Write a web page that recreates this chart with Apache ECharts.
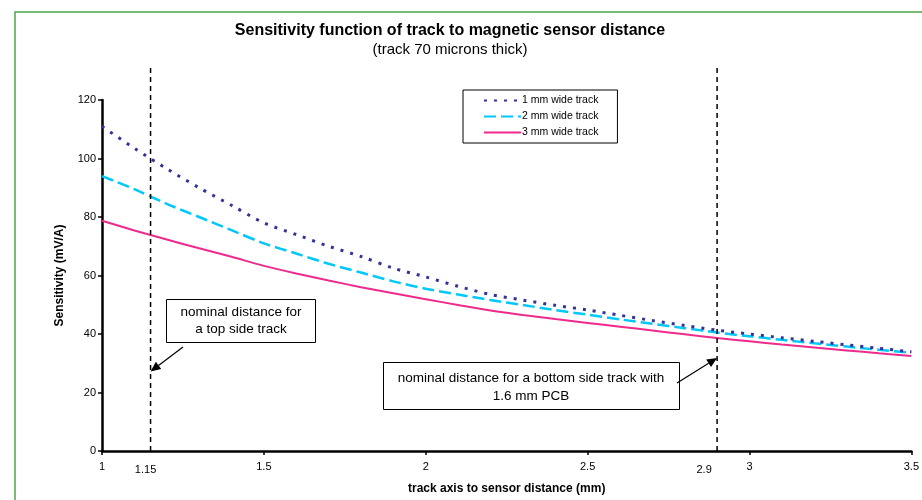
<!DOCTYPE html>
<html>
<head>
<meta charset="utf-8">
<script src="https://cdn.jsdelivr.net/npm/echarts@6/dist/echarts.min.js"></script>
<style>
  html, body { margin: 0; padding: 0; background: #fff; }
  #chart { width: 922px; height: 500px; }
</style>
</head>
<body>
<div id="chart"></div>
<script>
// Track-to-sensor distance (mm)
const distances = [1.0, 1.1, 1.2, 1.3, 1.4, 1.5, 1.6, 1.7, 1.8, 1.9, 2.0, 2.1, 2.2,
                   2.3, 2.4, 2.5, 2.6, 2.7, 2.8, 2.9, 3.0, 3.1, 3.2, 3.3, 3.4, 3.5];
// Sensitivity (mV/A) per track width
const track1mm = [111, 103.5, 96.5, 90, 84, 78, 74, 70, 66.5, 62.5, 59.5, 56.3, 53.5,
                  51.6, 49.8, 48.2, 46.4, 44.6, 42.9, 41.3, 40.0, 38.7, 37.5, 36.3, 35.1, 33.9];
const track2mm = [94, 89.5, 84.5, 80, 75.5, 71, 67.5, 64, 61, 58, 55.5, 53.5, 51.6,
                  49.9, 48.2, 46.6, 45.0, 43.5, 42.0, 40.5, 39.2, 38.0, 36.8, 35.7, 34.6, 33.6];
const track3mm = [78.7, 75.4, 72.3, 69.3, 66.4, 63.3, 60.7, 58.3, 56.0, 53.9, 51.9, 49.9, 48.0,
                  46.5, 45.1, 43.8, 42.5, 41.2, 39.9, 38.6, 37.5, 36.4, 35.4, 34.4, 33.4, 32.5];
const seriesNames = ['1 mm wide track', '2 mm wide track', '3 mm wide track'];
// Nominal distances marked on the chart
const nominalTop = 1.15;
const nominalBottom = 2.9;
const yTicks = [0, 20, 40, 60, 80, 100, 120];

const FONT = '"Liberation Sans", Arial, sans-serif';
const chart = echarts.init(document.getElementById('chart'));

function pairs(ys) { return distances.map((x, i) => [x, ys[i]]); }

chart.setOption({
  animation: false,
  backgroundColor: '#fff',
  textStyle: { fontFamily: FONT },
  title: {
    text: 'Sensitivity function of track to magnetic sensor distance',
    subtext: '(track 70 microns thick)',
    left: 445,
    textAlign: 'center',
    top: 18,
    itemGap: 3,
    textStyle: { fontFamily: FONT, fontSize: 16, fontWeight: 'bold', color: '#000' },
    subtextStyle: { fontFamily: FONT, fontSize: 15, color: '#000' }
  },
  legend: {
    orient: 'vertical',
    left: 463,
    top: 90,
    padding: [5, 19, 5, 20],
    itemGap: 5,
    itemWidth: 37,
    itemHeight: 11,
    borderColor: '#000',
    borderWidth: 1,
    itemStyle: { opacity: 0 },
    textStyle: { fontFamily: FONT, fontSize: 10.5, color: '#000', padding: [0, 0, 0, -4] },
    data: seriesNames.map(n => ({ name: n, itemStyle: { opacity: 0 } }))
  },
  grid: { left: 102, right: 10, top: 100, bottom: 49 },
  xAxis: {
    type: 'value',
    min: 1, max: 3.5, interval: 0.5,
    name: 'track axis to sensor distance (mm)',
    nameLocation: 'middle',
    nameGap: 32,
    nameTextStyle: { fontFamily: FONT, fontSize: 12, fontWeight: 'bold', color: '#000' },
    axisLine: { lineStyle: { color: '#000', width: 2.5 } },
    axisTick: { length: 4, lineStyle: { color: '#000', width: 1.5 } },
    axisLabel: { fontFamily: FONT, fontSize: 11, color: '#000', margin: 10 },
    splitLine: { show: false }
  },
  yAxis: {
    type: 'value',
    min: yTicks[0], max: yTicks[yTicks.length - 1], interval: 20,
    name: 'Sensitivity (mV/A)',
    nameLocation: 'middle',
    nameGap: 36,
    nameTextStyle: { fontFamily: FONT, fontSize: 12, fontWeight: 'bold', color: '#000' },
    axisLine: { show: true, lineStyle: { color: '#000', width: 2.5 } },
    axisTick: { show: true, length: 4, lineStyle: { color: '#000', width: 1.5 } },
    axisLabel: { fontFamily: FONT, fontSize: 11, color: '#000', margin: 6 },
    splitLine: { show: false }
  },
  series: [
    {
      name: seriesNames[0], type: 'line', data: pairs(track1mm),
      symbol: 'none', smooth: 0.3, z: 4,
      lineStyle: { color: '#333399', width: 3, type: [3, 7] },
      itemStyle: { color: '#333399' }
    },
    {
      name: seriesNames[1], type: 'line', data: pairs(track2mm),
      symbol: 'none', smooth: 0.3, z: 3,
      lineStyle: { color: '#00C8F8', width: 2.5, type: [12, 5] },
      itemStyle: { color: '#00C8F8' }
    },
    {
      name: seriesNames[2], type: 'line', data: pairs(track3mm),
      symbol: 'none', smooth: 0.3, z: 2,
      lineStyle: { color: '#EE2A8C', width: 2 },
      itemStyle: { color: '#EE2A8C' }
    }
  ]
});

// Annotations: nominal-distance guides, their tick labels, callout boxes and arrows
function px(x, y) { return chart.convertToPixel({ gridIndex: 0 }, [x, y]); }

const top1 = px(nominalTop, 0), top2 = px(nominalBottom, 0);
const guideTop = 68;

function arrow(from, to) {
  const ang = Math.atan2(to[1] - from[1], to[0] - from[0]);
  const L = 10, W = 4.5;
  const bx = to[0] - L * Math.cos(ang), by = to[1] - L * Math.sin(ang);
  const nx = -Math.sin(ang) * W, ny = Math.cos(ang) * W;
  return [
    { type: 'line', shape: { x1: from[0], y1: from[1], x2: bx, y2: by },
      style: { stroke: '#000', lineWidth: 1.2 }, z: 20 },
    { type: 'polygon', shape: { points: [to, [bx + nx, by + ny], [bx - nx, by - ny]] },
      style: { fill: '#000' }, z: 20 }
  ];
}

const tip1 = px(nominalTop, 27.2);
const tip2 = px(nominalBottom, 31.8);

chart.setOption({
  graphic: [
    // outer frame
    { type: 'rect', shape: { x: 15, y: 12, width: 1200, height: 800 },
      style: { fill: null, stroke: '#4EA64E', lineWidth: 1.5 }, z: 1, silent: true },
    // vertical guides
    { type: 'line', shape: { x1: top1[0], y1: guideTop, x2: top1[0], y2: top1[1] },
      style: { stroke: '#000', lineWidth: 1.5, lineDash: [5, 4] }, z: 15 },
    { type: 'line', shape: { x1: top2[0], y1: guideTop, x2: top2[0], y2: top2[1] },
      style: { stroke: '#000', lineWidth: 1.5, lineDash: [5, 4] }, z: 15 },
    // extra tick labels
    { type: 'text', x: top1[0] - 5, y: top1[1] + 13,
      style: { text: String(nominalTop), fontFamily: FONT, fontSize: 11, fill: '#000',
               align: 'center', verticalAlign: 'top' }, z: 15 },
    { type: 'text', x: top2[0] - 13, y: top2[1] + 13,
      style: { text: String(nominalBottom), fontFamily: FONT, fontSize: 11, fill: '#000',
               align: 'center', verticalAlign: 'top' }, z: 15 },
    // callout boxes
    { type: 'rect', shape: { x: 166.5, y: 299.5, width: 149, height: 43 },
      style: { fill: '#fff', stroke: '#000', lineWidth: 1 }, z: 18 },
    { type: 'text', x: 241, y: 321,
      style: { text: 'nominal distance for\na top side track', fontFamily: FONT, fontSize: 13.5,
               lineHeight: 17, fill: '#000', align: 'center', verticalAlign: 'middle' }, z: 19 },
    { type: 'rect', shape: { x: 383.5, y: 362.5, width: 296, height: 47 },
      style: { fill: '#fff', stroke: '#000', lineWidth: 1 }, z: 18 },
    { type: 'text', x: 531, y: 387,
      style: { text: 'nominal distance for a bottom side track with\n1.6 mm PCB', fontFamily: FONT,
               fontSize: 13.5, lineHeight: 18, fill: '#000', align: 'center', verticalAlign: 'middle' }, z: 19 },
    ...arrow([183, 347], tip1),
    ...arrow([677, 383], tip2)
  ]
});
</script>
</body>
</html>
